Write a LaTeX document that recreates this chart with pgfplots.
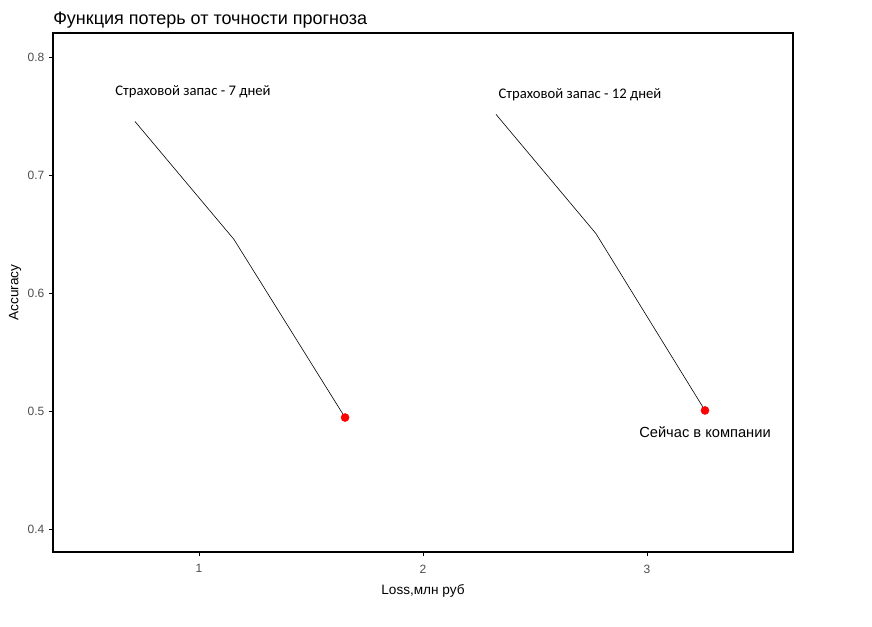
\documentclass[border=0pt]{standalone}
\usepackage{fontspec}
\setmainfont{Liberation Sans}
\newfontfamily\calfont{Carlito}
\usepackage{pgfplots}
\pgfplotsset{compat=1.18}
\definecolor{ticklab}{HTML}{4D4D4D}
\begin{document}
\begin{tikzpicture}
\path (0,0) rectangle (654pt,469.5pt);
\begin{axis}[
  at={(39.75pt,55.5pt)}, anchor=south west,
  scale only axis, width=555pt, height=389.25pt,
  xmin=0.348, xmax=3.652, ymin=0.381, ymax=0.821,
  xtick={1,2,3}, ytick={0.4,0.5,0.6,0.7,0.8},
  tick align=outside, major tick length=3pt,
  xtick pos=bottom, ytick pos=left,
  axis line style={black, line width=0.8pt},
  tick style={black, line width=0.5pt},
  /pgf/number format/assume math mode=true,
  yticklabel style={/pgf/number format/fixed, /pgf/number format/precision=1, /pgf/number format/fixed zerofill, font=\fontsize{9pt}{10pt}\selectfont, text=ticklab},
  xticklabel style={font=\fontsize{9pt}{10pt}\selectfont, text=ticklab, yshift=-3pt},
  xlabel={Loss,млн руб}, ylabel={Accuracy},
  label style={font=\fontsize{10.2pt}{12pt}\selectfont},
  xlabel style={at={(0.5,0)}, anchor=north, yshift=-21pt},
  ylabel style={yshift=-2pt},
  clip=false,
]
\addplot[black, line width=0.45pt] coordinates {(0.714,0.746) (1.156,0.646) (1.652,0.495)};
\addplot[black, line width=0.45pt] coordinates {(2.326,0.752) (2.772,0.651) (3.259,0.501)};
\addplot[only marks, mark=*, mark size=3pt, color=red, mark options={draw=red, fill=red}] coordinates {(1.652,0.495) (3.259,0.501)};
\node[font=\calfont\fontsize{11pt}{13pt}\selectfont] at (axis cs:0.973,0.771) {Страховой запас - 7 дней};
\node[font=\calfont\fontsize{11pt}{13pt}\selectfont] at (axis cs:2.701,0.769) {Страховой запас - 12 дней};
\node[font=\fontsize{11pt}{13pt}\selectfont] at (axis cs:3.259,0.483) {Сейчас в компании};
\node[anchor=base west, font=\fontsize{13.5pt}{15pt}\selectfont, inner sep=0pt] at (rel axis cs:0,1) [yshift=6.5pt] {Функция потерь от точности прогноза};
\end{axis}
\end{tikzpicture}
\end{document}
